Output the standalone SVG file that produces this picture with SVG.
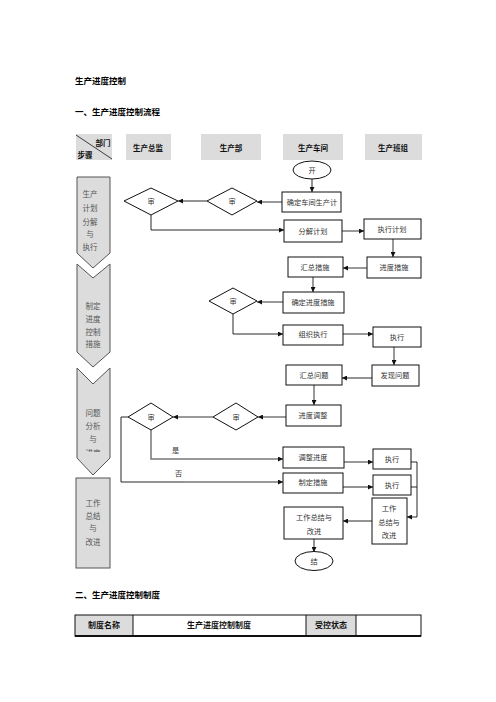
<svg xmlns="http://www.w3.org/2000/svg" width="496" height="702" viewBox="0 0 496 702">
<style>
text{font-family:"Noto Sans CJK SC","Liberation Sans",sans-serif;}
.h{font-size:8.5px;font-weight:bold;fill:#000;}
.hd{font-size:7.5px;font-weight:bold;fill:#111;text-anchor:middle;}
.hdc{fill:#dcdcdc;stroke:none;}
.st{fill:#dcdcdc;stroke:#555;stroke-width:1;}
.stt{font-size:7.5px;fill:#555;text-anchor:middle;}
.n{fill:#fff;stroke:#111;stroke-width:1;}
.t{font-size:7.2px;fill:#333;text-anchor:middle;}
.c{fill:none;stroke:#111;stroke-width:0.9;}
.g{fill:none;stroke:#777;stroke-width:1.5;}
.a{marker-end:url(#ah);}
.lb{font-size:7.2px;fill:#333;}
.tb{font-size:8px;font-weight:bold;fill:#111;text-anchor:middle;}
</style>
<defs>
<marker id="ah" viewBox="0 0 6 6" refX="6" refY="3" markerWidth="5" markerHeight="5" markerUnits="userSpaceOnUse" orient="auto"><path d="M0,0L6,3L0,6z" fill="#111"/></marker>
<clipPath id="clip3"><rect x="70" y="440" width="50" height="12"/></clipPath>
</defs>
<rect width="496" height="702" fill="#fff"/>

<text class="h" x="75" y="84">生产进度控制</text>
<text class="h" x="75" y="115">一、生产进度控制流程</text>

<g id="header">
<rect class="hdc" x="76" y="134" width="36" height="26"/>
<line x1="76" y1="135" x2="112" y2="159" stroke="#111" stroke-width="0.8"/>
<text class="hd" x="103" y="146">部门</text>
<text class="hd" x="85" y="158">步骤</text>
<rect class="hdc" x="126" y="134" width="45" height="26"/>
<text class="hd" x="148" y="151">生产总监</text>
<rect class="hdc" x="201" y="134" width="60" height="26"/>
<text class="hd" x="231" y="151">生产部</text>
<rect class="hdc" x="283" y="134" width="60" height="26"/>
<text class="hd" x="313" y="151">生产车间</text>
<rect class="hdc" x="365" y="134" width="57" height="26"/>
<text class="hd" x="393" y="151">生产班组</text>
</g>

<g id="step1">
<polygon class="st" points="77,177 110,177 110,253 93,268 77,253"/>
<text class="stt" x="90" y="197">生产</text>
<text class="stt" x="90" y="211">计划</text>
<text class="stt" x="90" y="225">分解</text>
<text class="stt" x="90" y="237">与</text>
<text class="stt" x="90" y="250">执行</text>
</g>
<g id="step2">
<polygon class="st" points="77,264 93,278 110,264 110,352 93,367 77,352"/>
<text class="stt" x="93" y="309">制定</text>
<text class="stt" x="93" y="322">进度</text>
<text class="stt" x="93" y="335">控制</text>
<text class="stt" x="93" y="347">措施</text>
</g>
<g id="step3">
<polygon class="st" points="77,368 93,384 110,368 110,458 93,475 77,458"/>
<text class="stt" x="93" y="416">问题</text>
<text class="stt" x="93" y="429">分析</text>
<text class="stt" x="93" y="442">与</text>
<text class="stt" x="93" y="456" clip-path="url(#clip3)">进度</text>
</g>
<g id="step4">
<rect class="st" x="76" y="478" width="34" height="90"/>
<text class="stt" x="93" y="506">工作</text>
<text class="stt" x="93" y="519">总结</text>
<text class="stt" x="93" y="531">与</text>
<text class="stt" x="93" y="545">改进</text>
</g>

<g id="connectors">
<path class="c a" d="M312,179V192"/>
<path class="g a" d="M282,202H257"/>
<path class="c a" d="M207,201H178"/>
<path class="c a" d="M151,215V230H284"/>
<path class="g a" d="M342,231H364"/>
<path class="g a" d="M393,239V257"/>
<path class="g a" d="M367,268H343"/>
<path class="g a" d="M313,277V292"/>
<path class="g a" d="M283,302H257"/>
<path class="c a" d="M233,314V334H283"/>
<path class="g a" d="M343,334H373"/>
<path class="g a" d="M394,347V365"/>
<path class="c a" d="M372,378H342"/>
<path class="g a" d="M314,385V405"/>
<path class="g a" d="M286,417H258"/>
<path class="g a" d="M213,417H173"/>
<path class="g a" d="M151,430V459H283"/>
<path class="c" d="M128,417H121V482H185"/>
<path class="g a" d="M185,482H283"/>
<path class="g a" d="M344,462H373"/>
<path class="c a" d="M343,487H373"/>
<path class="c a" d="M411,462H417V517H407"/>
<path class="c" d="M411,487H417"/>
<path class="c a" d="M372,521H343"/>
<path class="c a" d="M314,539V552"/>
<text class="lb" x="172" y="453">是</text>
<text class="lb" x="175" y="476">否</text>
</g>

<g id="start"><ellipse class="n" cx="312" cy="170" rx="19" ry="9"/><text class="t" x="312" y="173">开</text></g>
<g id="n1"><rect class="n" x="282" y="192" width="59" height="20"/><text class="t" x="312" y="205">确定车间生产计</text></g>
<g id="d1"><polygon class="n" points="124,201 151,188 178,201 151,215"/><text class="t" x="151" y="204">审</text></g>
<g id="d2"><polygon class="n" points="207,201 232,188 257,201 232,215"/><text class="t" x="232" y="204">审</text></g>
<g id="n2"><rect class="n" x="284" y="220" width="58" height="22"/><text class="t" x="313" y="234">分解计划</text></g>
<g id="n3"><rect class="n" x="364" y="219" width="57" height="20"/><text class="t" x="392" y="232">执行计划</text></g>
<g id="n4"><rect class="n" x="367" y="257" width="54" height="21"/><text class="t" x="394" y="270">进度措施</text></g>
<g id="n5"><rect class="n" x="288" y="257" width="55" height="20"/><text class="t" x="315" y="270">汇总措施</text></g>
<g id="n6"><rect class="n" x="283" y="292" width="61" height="21"/><text class="t" x="313" y="305">确定进度措施</text></g>
<g id="d3"><polygon class="n" points="209,301 233,288 257,301 233,314"/><text class="t" x="233" y="304">审</text></g>
<g id="n7"><rect class="n" x="283" y="325" width="60" height="20"/><text class="t" x="313" y="337">组织执行</text></g>
<g id="n8"><rect class="n" x="373" y="327" width="48" height="20"/><text class="t" x="397" y="340">执行</text></g>
<g id="n9"><rect class="n" x="372" y="365" width="47" height="21"/><text class="t" x="395" y="378">发现问题</text></g>
<g id="n10"><rect class="n" x="286" y="365" width="56" height="20"/><text class="t" x="314" y="378">汇总问题</text></g>
<g id="n11"><rect class="n" x="286" y="405" width="55" height="21"/><text class="t" x="313" y="418">进度调整</text></g>
<g id="d4"><polygon class="n" points="128,417 151,403 173,417 151,430"/><text class="t" x="151" y="420">审</text></g>
<g id="d5"><polygon class="n" points="213,417 236,403 258,417 236,430"/><text class="t" x="236" y="420">审</text></g>
<g id="n12"><rect class="n" x="283" y="447" width="61" height="21"/><text class="t" x="313" y="460">调整进度</text></g>
<g id="n13"><rect class="n" x="283" y="473" width="60" height="20"/><text class="t" x="313" y="485">制定措施</text></g>
<g id="n14"><rect class="n" x="373" y="449" width="38" height="20"/><text class="t" x="392" y="462">执行</text></g>
<g id="n15"><rect class="n" x="373" y="475" width="38" height="20"/><text class="t" x="392" y="488">执行</text></g>
<g id="n16"><rect class="n" x="372" y="498" width="35" height="46"/><text class="t" x="389" y="511">工作</text><text class="t" x="389" y="525">总结与</text><text class="t" x="389" y="538">改进</text></g>
<g id="n17"><rect class="n" x="284" y="507" width="59" height="32"/><text class="t" x="314" y="520">工作总结与</text><text class="t" x="314" y="534">改进</text></g>
<g id="end"><ellipse class="n" cx="314" cy="561" rx="19" ry="9.5"/><text class="t" x="314" y="564">结</text></g>

<text class="h" x="75" y="598">二、生产进度控制制度</text>
<g id="table">
<rect x="75" y="615" width="58" height="21" fill="#dcdcdc"/>
<rect x="306" y="615" width="50" height="21" fill="#dcdcdc"/>
<rect x="75" y="615" width="346" height="21" fill="none" stroke="#111" stroke-width="1"/>
<line x1="75" y1="636" x2="421" y2="636" stroke="#111" stroke-width="2"/>
<line x1="133" y1="615" x2="133" y2="636" stroke="#111" stroke-width="1"/>
<line x1="306" y1="615" x2="306" y2="636" stroke="#111" stroke-width="1"/>
<line x1="356" y1="615" x2="356" y2="636" stroke="#111" stroke-width="1"/>
<text class="tb" x="104" y="628">制度名称</text>
<text class="tb" x="219" y="628">生产进度控制制度</text>
<text class="tb" x="331" y="628">受控状态</text>
</g>
</svg>
